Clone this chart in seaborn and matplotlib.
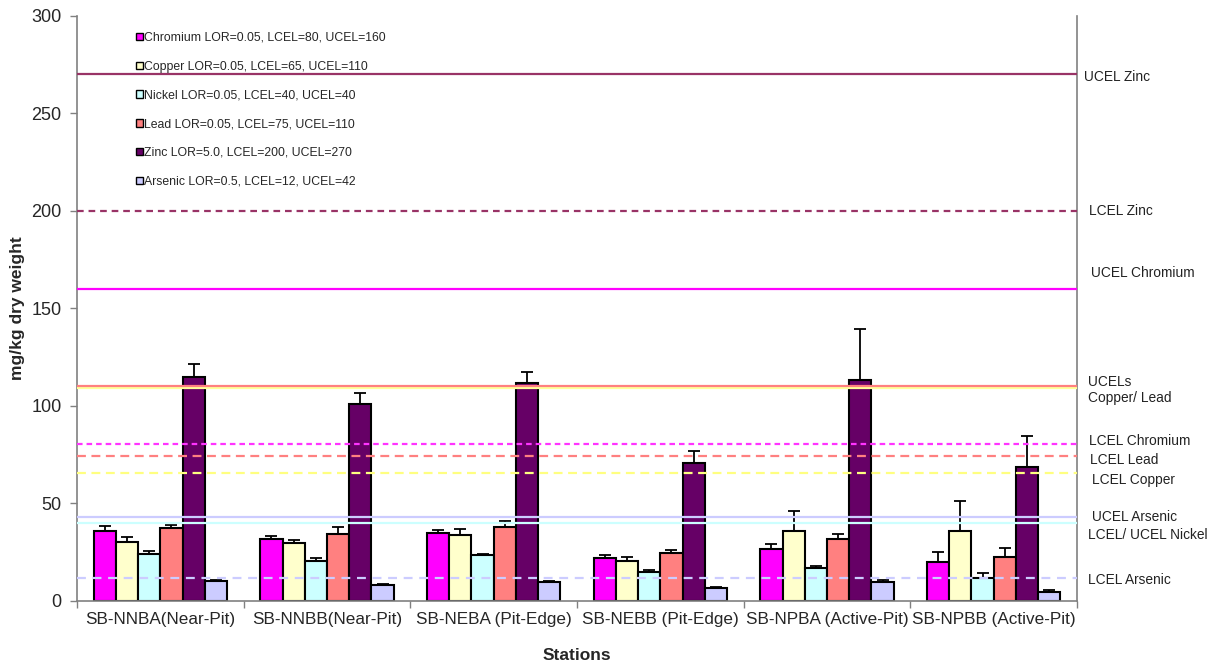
import matplotlib
matplotlib.use("Agg")
import matplotlib.pyplot as plt
import matplotlib.transforms as mtransforms
from matplotlib.patches import Patch
import numpy as np
import pandas as pd
import seaborn as sns

STATIONS = [
    "SB-NNBA(Near-Pit)",
    "SB-NNBB(Near-Pit)",
    "SB-NEBA (Pit-Edge)",
    "SB-NEBB (Pit-Edge)",
    "SB-NPBA (Active-Pit)",
    "SB-NPBB (Active-Pit)",
]
METALS = ["Chromium", "Copper", "Nickel", "Lead", "Zinc", "Arsenic"]
LEGEND_LABELS = [
    "Chromium LOR=0.05, LCEL=80, UCEL=160",
    "Copper LOR=0.05, LCEL=65, UCEL=110",
    "Nickel LOR=0.05, LCEL=40, UCEL=40",
    "Lead LOR=0.05, LCEL=75, UCEL=110",
    "Zinc LOR=5.0, LCEL=200, UCEL=270",
    "Arsenic LOR=0.5, LCEL=12, UCEL=42",
]

chromium = [36.0, 31.8, 34.9, 22.1, 26.8, 20.2]
copper = [30.4, 29.7, 34.0, 20.3, 35.7, 35.7]
nickel = [24.3, 20.7, 23.4, 14.9, 16.9, 11.8]
lead = [37.3, 34.5, 38.1, 24.6, 32.0, 22.4]
zinc = [114.9, 101.2, 111.8, 70.9, 113.5, 68.5]
arsenic = [10.1, 8.4, 9.6, 6.7, 9.9, 4.8]

chromium_err = [2.5, 1.7, 1.5, 1.3, 2.2, 4.9]
copper_err = [2.4, 1.6, 2.9, 2.4, 10.5, 15.4]
nickel_err = [1.2, 1.2, 0.9, 0.8, 1.0, 2.6]
lead_err = [1.8, 3.4, 3.1, 1.7, 2.5, 4.8]
zinc_err = [6.6, 5.5, 5.6, 6.0, 26.0, 16.3]
arsenic_err = [0.8, 0.5, 0.8, 0.5, 0.9, 0.8]

PALETTE = {
    "Chromium": "#FF00FF",
    "Copper": "#FFFFCC",
    "Nickel": "#CCFFFF",
    "Lead": "#FF8080",
    "Zinc": "#660066",
    "Arsenic": "#CCCCFF",
}

# guideline levels: (value, colour, dashes or None)
GUIDELINES = [
    (270.0, "#993366", None),
    (200.0, "#993366", (3, 2.2)),
    (160.0, "#FF00FF", None),
    (80.3, "#FF33FF", (2.5, 1.8)),
    (109.0, "#FFFF99", None),
    (110.5, "#FF8080", None),
    (74.5, "#FF8080", (4, 2.5)),
    (65.5, "#FFFF80", (4, 2.5)),
    (43.0, "#CCCCFF", None),
    (40.2, "#CCFFFF", None),
    (11.8, "#CCCCFF", (4, 3)),
]

GUIDE_LABELS = [
    ("UCEL Zinc", 268.7, 0.007),
    ("LCEL Zinc", 200.0, 0.012),
    ("UCEL Chromium", 168.2, 0.014),
    ("UCELs\nCopper/ Lead", 108.2, 0.011),
    ("LCEL Chromium", 82.1, 0.012),
    ("LCEL Lead", 72.3, 0.013),
    ("LCEL Copper", 62.1, 0.015),
    ("UCEL Arsenic", 43.1, 0.015),
    ("LCEL/ UCEL Nickel", 33.8, 0.011),
    ("LCEL Arsenic", 10.8, 0.011),
]

values = [chromium, copper, nickel, lead, zinc, arsenic]
errors = [chromium_err, copper_err, nickel_err, lead_err, zinc_err, arsenic_err]

df = pd.DataFrame(
    [
        {"station": s, "metal": m, "value": v}
        for m, vals in zip(METALS, values)
        for s, v in zip(STATIONS, vals)
    ]
)

sns.set_theme(style="white")
plt.rcParams["font.family"] = ["Liberation Sans", "DejaVu Sans"]

fig = plt.figure(figsize=(12.16, 6.66), dpi=100)
ax = fig.add_axes([0.0633, 0.0976, 0.8224, 0.8784])

sns.barplot(
    data=df,
    x="station",
    y="value",
    hue="metal",
    order=STATIONS,
    hue_order=METALS,
    palette=PALETTE,
    width=0.8,
    gap=0,
    edgecolor="black",
    linewidth=1.5,
    saturation=1,
    errorbar=None,
    ax=ax,
    zorder=2,
)

for container, errs in zip(ax.containers, errors):
    xs = [b.get_x() + b.get_width() / 2 for b in container]
    ys = [b.get_height() for b in container]
    ax.errorbar(
        xs,
        ys,
        yerr=[np.zeros(len(errs)), errs],
        fmt="none",
        ecolor="black",
        elinewidth=1.3,
        capsize=4,
        capthick=1.3,
        zorder=3,
    )

for level, color, dashes in GUIDELINES:
    line = ax.axhline(level, color=color, linewidth=1.6, zorder=4)
    if dashes is not None:
        line.set_dashes(dashes)

trans = mtransforms.blended_transform_factory(ax.transAxes, ax.transData)
for text, y, dx in GUIDE_LABELS:
    ax.text(1 + dx, y, text, transform=trans, fontsize=9.9, va="center",
            ha="left", color="#222222", clip_on=False)

handles = [Patch(facecolor=PALETTE[m], edgecolor="black", linewidth=1.0) for m in METALS]
ax.legend(
    handles,
    LEGEND_LABELS,
    loc="upper left",
    bbox_to_anchor=(0.054, 0.981),
    frameon=False,
    fontsize=8.8,
    handlelength=0.55,
    handleheight=0.55,
    handletextpad=0.15,
    labelspacing=1.37,
    borderaxespad=0,
)

ax.set_xlim(-0.5, len(STATIONS) - 0.5)
ax.set_ylim(0, 300)
ax.set_yticks(np.arange(0, 301, 50))
ax.set_xticks(np.arange(-0.5, len(STATIONS), 1.0), minor=True)
ax.tick_params(axis="x", which="major", length=0, labelsize=12.3, pad=8)
ax.tick_params(axis="x", which="minor", length=5, width=1, color="#808080", direction="out")
ax.tick_params(axis="y", length=5, width=1, color="#808080", direction="out",
               labelsize=13, pad=6, left=True)
ax.tick_params(axis="x", bottom=True, which="minor")

ax.set_xlabel("Stations", fontsize=12.5, fontweight="bold", labelpad=15)
ax.set_ylabel("mg/kg dry weight", fontsize=12.5, fontweight="bold", labelpad=5)

for side in ["left", "right", "bottom"]:
    ax.spines[side].set_color("#808080")
    ax.spines[side].set_linewidth(1.2)
ax.spines["top"].set_visible(False)

fig.savefig("out.png", dpi=100)
